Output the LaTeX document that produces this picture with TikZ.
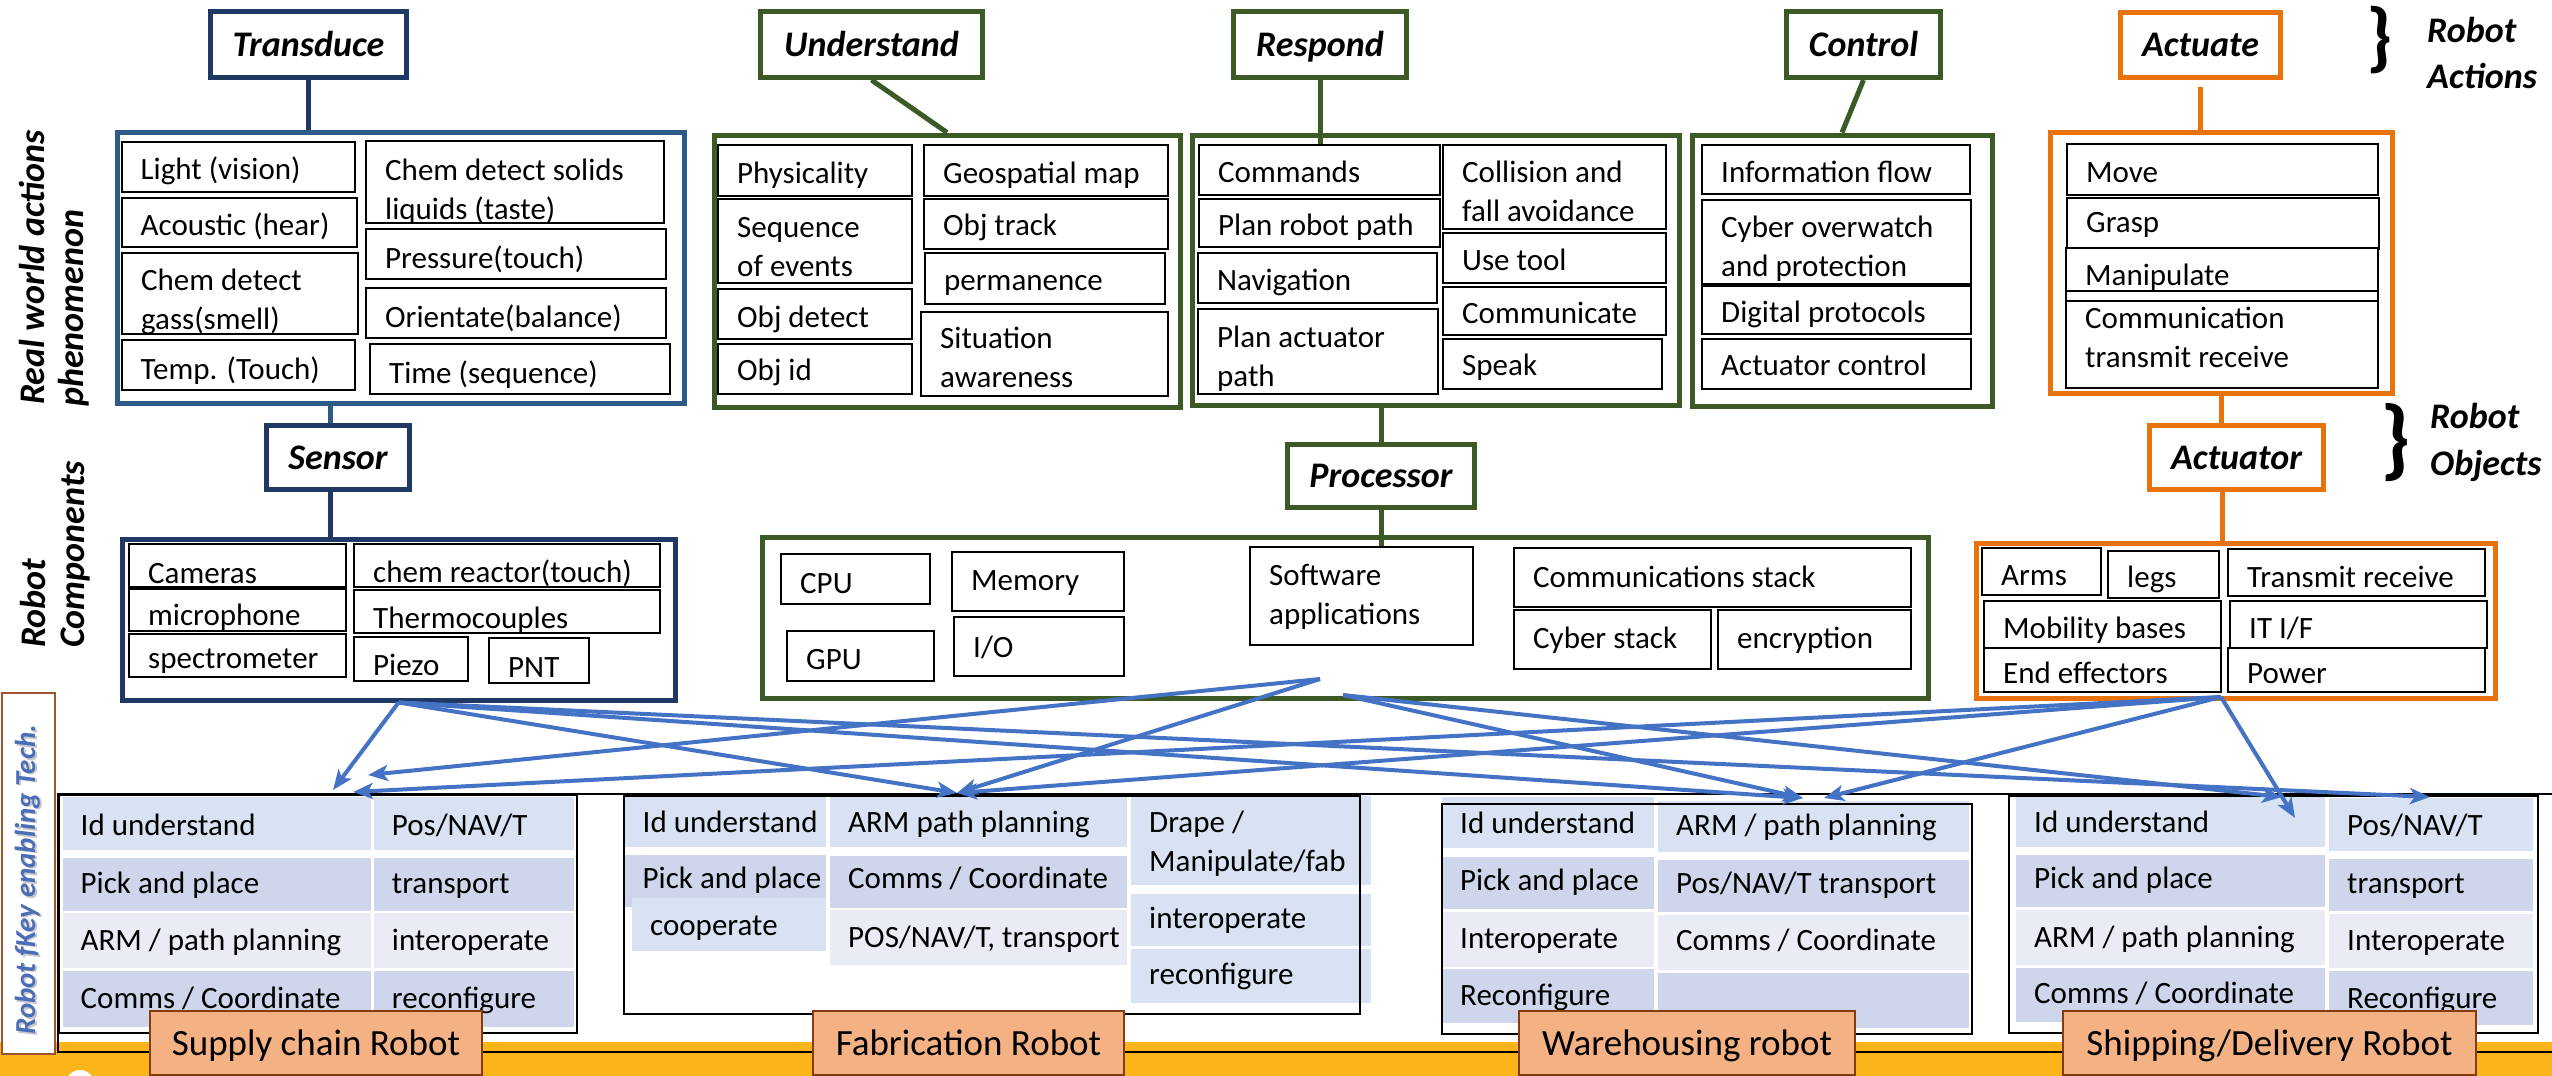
\documentclass[tikz,border=0pt]{standalone}
\usepackage{fontspec}
\setmainfont{Carlito}
\usetikzlibrary{arrows.meta,calc}

\definecolor{navy}{HTML}{203864}
\definecolor{navymid}{HTML}{2E5A88}
\definecolor{leaf}{HTML}{3B5A25}
\definecolor{amber}{HTML}{E8730C}
\definecolor{linkblue}{HTML}{4472C4}
\definecolor{rowA}{HTML}{D9E2F3}
\definecolor{rowB}{HTML}{CFD5EA}
\definecolor{rowC}{HTML}{E9EBF5}
\definecolor{tagfill}{HTML}{F4B183}
\definecolor{tagedge}{HTML}{843C0C}
\definecolor{band}{HTML}{FBB41A}
\definecolor{sidetext}{HTML}{4A6FB8}
\definecolor{sideshade}{HTML}{C8C8C8}
\definecolor{fkeyedge}{HTML}{A0522D}

\newcommand\bodyfont{\fontsize{31}{39}\selectfont}
\newcommand\headfont{\fontsize{36}{40}\selectfont\bfseries\itshape}
\newcommand\sidefont{\fontsize{36}{40}\selectfont\bfseries\itshape}
\newcommand\tagfont{\fontsize{37}{40}\selectfont}
\newcommand\twolines[2]{\vtop{\hbox{#1}\hbox{#2}}}

\tikzset{
  hdrbox/.style={draw, line width=5pt, fill=white, inner sep=0pt, font=\headfont, text height=23pt, text depth=0pt},
  groupframe/.style={draw, line width=5pt, fill=white, inner sep=0pt},
  cellframe/.style={draw=black, line width=2pt, fill=white, inner sep=0pt},
  celltext/.style={anchor=base west, inner sep=0pt, font=\bodyfont},
  tablecell/.style={inner sep=0pt, draw=none},
  tableframe/.style={draw=black, line width=2pt, inner sep=0pt},
  conn/.style={line width=5pt},
  flow/.style={draw=linkblue, line width=4pt, -{Stealth[length=20pt,width=16pt,inset=5pt]}},
  tag/.style={draw=tagedge, line width=2pt, fill=tagfill, inner sep=0pt, font=\tagfont, text height=24pt, text depth=0pt},
  sidelabel/.style={rotate=90, anchor=base west, inner sep=0pt, font=\sidefont},
  rlabel/.style={anchor=base west, inner sep=0pt, font=\sidefont},
  bracemark/.style={inner sep=0pt},
  fkeystyle/.style={rotate=90, anchor=base west, inner sep=0pt, font={\fontsize{29}{32}\selectfont\bfseries\itshape}},
}

% header box: name, x1, y1, x2, y2, colour, text
\newcommand\headbox[7]{%
  \node[hdrbox, draw=#6, minimum width={#4-#2}, minimum height={#5-#3}] (#1) at ({(#2+#4)/2},{(#3+#5)/2}) {#7};}
% group frame: name, x1, y1, x2, y2, colour
\newcommand\groupbox[6]{%
  \node[groupframe, draw=#6, anchor=north west, minimum width={#4-#2}, minimum height={#5-#3}] (#1) at (#2,#3) {};}
% framed cell: [baseline offset] name, x1, y1, x2, y2, text
\newcommand\boxcell[7][38]{%
  \node[cellframe, anchor=north west, minimum width={#5-#3}, minimum height={#6-#4}] (#2) at (#3,#4) {};
  \node[celltext] (#2-t) at ({#3+20},{#4+#1}) {#7};}
% table cell: name, x1, y1, x2, y2, fill, baseline, text
\newcommand\tabcell[8]{%
  \node[tablecell, fill=#6, anchor=north west, minimum width={#4-#2}, minimum height={#5-#3}] (#1) at (#2,#3) {};
  \node[celltext] (#1-t) at ({#2+18},#7) {#8};}
% table frame: name, x1, y1, x2, y2
\newcommand\tabframe[5]{%
  \node[tableframe, anchor=north west, minimum width={#4-#2}, minimum height={#5-#3}] (#1) at (#2,#3) {};}

\begin{document}
\begin{tikzpicture}[x=1pt,y=-1pt]
\useasboundingbox (0,0) rectangle (2552,1076);
\clip (0,0) rectangle (2552,1076);

% ---------- bottom band ----------
\fill[band] (0,1042) rectangle (2552,1076);
\fill[white] (80,1086) ellipse[x radius=15, y radius=16];

% ---------- group frames ----------
\groupbox{tcont}{115}{129.5}{681.5}{400.5}{navymid}
\groupbox{ucont}{711.5}{132.5}{1177.5}{404.5}{leaf}
\groupbox{rcont}{1189.5}{132.5}{1676.5}{402.5}{leaf}
\groupbox{ccont}{1689.5}{132.5}{1989.5}{403.5}{leaf}
\groupbox{acont}{2047.5}{129.5}{2389.5}{390.5}{amber}
\groupbox{scont}{119.5}{536.5}{672.5}{697.5}{navy}
\groupbox{pcont}{759.5}{534.5}{1925.5}{695.5}{leaf}
\groupbox{xcont}{1973.5}{540.5}{2492.5}{695.5}{amber}

% ---------- transduce ----------
\boxcell{light}{120.5}{141}{354}{191}{Light (vision)}
\boxcell{acoustic}{120.5}{197}{356}{246}{Acoustic (hear)}
\boxcell{gas}{121}{252}{357}{333}{\twolines{Chem detect}{gass(smell)}}
\boxcell[40]{temp}{120.5}{339}{354}{389}{Temp. (Touch)}
\boxcell[40]{taste}{365}{140}{663}{222}{\twolines{Chem detect solids}{liquids (taste)}}
\boxcell[40]{pressure}{365}{228}{665}{278}{Pressure(touch)}
\boxcell[40]{orient}{365}{287}{665}{337}{Orientate(balance)}
\boxcell[40]{timeseq}{369}{343}{669}{393}{Time (sequence)}

% ---------- understand ----------
\boxcell[39]{physical}{717}{144}{911}{195}{Physicality}
\boxcell[39]{sequence}{717}{198}{911}{282}{\twolines{Sequence}{of events}}
\boxcell[39]{objdetect}{717}{288}{911}{338}{Obj detect}
\boxcell[37]{objid}{717}{343}{911}{393}{Obj id}
\boxcell[39]{geomap}{923}{144}{1167}{195}{Geospatial map}
\boxcell[37]{objtrack}{923}{198}{1167}{248}{Obj track}
\boxcell{perm}{924}{252}{1164}{303}{permanence}
\boxcell[37]{situation}{920}{311}{1167}{395}{\twolines{Situation}{awareness}}

% ---------- respond ----------
\boxcell{commands}{1198}{144}{1439}{194}{Commands}
\boxcell[37]{robotpath}{1198}{198}{1439}{246}{Plan robot path}
\boxcell{navigation}{1197}{252}{1436}{302}{Navigation}
\boxcell[39]{actpath}{1197}{308}{1437}{393}{\twolines{Plan actuator}{path}}
\boxcell{collision}{1442}{144}{1665}{228}{\twolines{Collision and}{fall avoidance}}
\boxcell{usetool}{1442}{232}{1665}{282}{Use tool}
\boxcell[37]{communicate}{1442}{286}{1665}{334}{Communicate}
\boxcell[37]{speak}{1442}{338}{1661}{388}{Speak}

% ---------- control ----------
\boxcell{infoflow}{1701}{144}{1969}{193}{Information flow}
\boxcell{cyberwatch}{1701}{199}{1970}{283}{\twolines{Cyber overwatch}{and protection}}
\boxcell[37]{protocols}{1701}{285}{1970}{333}{Digital protocols}
\boxcell[37]{actcontrol}{1701}{338}{1970}{388}{Actuator control}

% ---------- actuate ----------
\boxcell[39]{move}{2066}{143}{2377}{194}{Move}
\boxcell[35]{grasp}{2066}{197}{2378}{248}{Grasp}
\boxcell{manip}{2065}{247}{2377}{290}{Manipulate}
\node[cellframe, anchor=north west, minimum width=312, minimum height=10] (manipstrip) at (2065,290) {};
\boxcell[28]{commtx}{2065}{300}{2377}{387}{\twolines{Communication}{transmit receive}}

% ---------- sensor ----------
\boxcell[40]{cameras}{128}{543}{345}{586}{Cameras}
\boxcell[37]{microphone}{128}{588}{345}{630}{microphone}
\boxcell[35]{spectro}{128}{633}{345}{676}{spectrometer}
\boxcell[39]{reactor}{353}{543}{659}{586}{chem reactor(touch)}
\boxcell[39]{thermo}{353}{589}{659}{632}{Thermocouples}
\boxcell[39]{piezo}{353}{636}{467}{680}{Piezo}
\boxcell[40]{pnt}{488}{637}{588}{682}{PNT}

% ---------- processor ----------
\boxcell[40]{cpu}{780}{553}{929}{603}{CPU}
\boxcell[39]{gpu}{786}{630}{933}{680}{GPU}
\boxcell[39]{memory}{951}{551}{1123}{610}{Memory}
\boxcell[41]{io}{953}{616}{1123}{675}{I/O}
\boxcell[39]{software}{1249}{546}{1472}{644}{\twolines{Software}{applications}}
\boxcell[40]{commstack}{1513}{547}{1910}{606}{Communications stack}
\boxcell[39]{cyberstack}{1513}{609}{1710}{668}{Cyber stack}
\boxcell[39]{encrypt}{1717}{609}{1910}{668}{encryption}

% ---------- actuator ----------
\boxcell{arms}{1981}{547}{2100}{594}{Arms}
\boxcell[37]{legs}{2107}{550}{2218}{597}{legs}
\boxcell[39]{transmit}{2227}{548}{2484}{595}{Transmit receive}
\boxcell{mobility}{1983}{600}{2220}{647}{Mobility bases}
\boxcell{itif}{2229}{600}{2486}{647}{IT I/F}
\boxcell[36]{endeff}{1983}{647}{2220}{691}{End effectors}
\boxcell[36]{power}{2227}{647}{2484}{691}{Power}

% ---------- header boxes ----------
\headbox{transduce}{210.5}{11.5}{406.5}{77.5}{navy}{Transduce}
\headbox{understand}{760.5}{11.5}{982.5}{77.5}{leaf}{Understand}
\headbox{respond}{1233.5}{11.5}{1406.5}{77.5}{leaf}{Respond}
\headbox{control}{1786.5}{11.5}{1940.5}{77.5}{leaf}{Control}
\headbox{actuate}{2120.5}{12.5}{2280.5}{77.5}{amber}{Actuate}
\headbox{sensor}{266.5}{425.5}{409.5}{489.5}{navy}{Sensor}
\headbox{processor}{1287.5}{444.5}{1474.5}{507.5}{leaf}{Processor}
\headbox{actuator}{2149.5}{425.5}{2323.5}{489.5}{amber}{Actuator}

% ---------- header connectors ----------
\draw[conn, navy] (transduce.south) -- (transduce.south |- tcont.north);
\draw[conn, navymid] ([xshift=-8pt]sensor.north) -- ([xshift=-8pt]sensor.north |- tcont.south);
\draw[conn, navy] ([xshift=-8pt]sensor.south) -- ([xshift=-8pt]sensor.south |- scont.north);
\draw[conn, leaf] (understand.south) -- (ucont.north);
\draw[conn, leaf] (respond.south) -- (respond.south |- commands.north);
\draw[conn, leaf] (control.south) -- (ccont.north);
\draw[conn, amber] ([yshift=-7pt]actuate.south) -- (actuate.south |- acont.north);
\draw[conn, amber] (acont.south) -- (acont.south |- actuator.north);
\draw[conn, amber] ([xshift=-14.5pt]actuator.south) -- ([xshift=-14.5pt]actuator.south |- xcont.north);
\draw[conn, leaf] (processor.north) -- (processor.north |- rcont.south);
\draw[conn, leaf] (processor.south) -- (processor.south |- software.north);

% ---------- side labels ----------
\node[sidelabel] (realworld) at (44,405) {Real world actions};
\node[sidelabel] (phenom) at (83,407) {phenomenon};
\node[sidelabel] (robotcomp) at (45,648) {Robot};
\node[sidelabel] (components) at (84,648) {Components};

\node[bracemark, font={\fontsize{77}{77}\selectfont\bfseries}] (brace1) at (2380,40) {\}};
\node[rlabel] (actlabel1) at (2427,42) {Robot};
\node[rlabel] (actlabel2) at (2427,88) {Actions};
\node[bracemark, font={\fontsize{89}{89}\selectfont\bfseries}] (brace2) at (2396,443) {\}};
\node[rlabel] (objlabel1) at (2430,428) {Robot};
\node[rlabel] (objlabel2) at (2430,475) {Objects};

% ---------- robot tables ----------
\draw[line width=2pt] (2560,794) -- (58,794) -- (58,1052) -- (2560,1052);

% supply chain
\tabcell{s11}{62.5}{797}{370.5}{850}{rowA}{835}{Id understand}
\tabcell{s21}{62.5}{858}{370.5}{911}{rowB}{893}{Pick and place}
\tabcell{s31}{62.5}{913}{370.5}{968}{rowC}{950}{ARM / path planning}
\tabcell{s41}{62.5}{971}{370.5}{1027}{rowB}{1008}{Comms / Coordinate}
\tabcell{s12}{373.7}{797}{573.7}{850}{rowA}{835}{Pos/NAV/T}
\tabcell{s22}{373.7}{858}{573.7}{911}{rowB}{893}{transport}
\tabcell{s32}{373.7}{913}{573.7}{968}{rowC}{950}{interoperate}
\tabcell{s42}{373.7}{971}{573.7}{1027}{rowB}{1008}{reconfigure}
\tabframe{supplybox}{58}{794}{576}{1032}

% fabrication
\tabcell{f11}{624.5}{796}{826}{847}{rowA}{832}{Id understand}
\tabcell{f21}{624.5}{855}{826}{907}{rowB}{888}{Pick and place}
\tabcell{f31}{632}{898}{826}{951}{rowA}{935}{cooperate}
\tabcell{f12}{830}{796}{1127}{847}{rowA}{832}{ARM path planning}
\tabcell{f22}{830}{856}{1127}{908}{rowB}{888}{Comms / Coordinate}
\tabcell{f32}{830}{910}{1127}{965}{rowC}{947}{POS/NAV/T, transport}
\tabcell{f13}{1131}{796}{1371}{885}{rowA}{832}{\twolines{Drape /}{Manipulate/fab}}
\tabcell{f23}{1131}{894}{1371}{946}{rowA}{928}{interoperate}
\tabcell{f33}{1131}{949}{1371}{1003}{rowA}{984}{reconfigure}
\tabframe{fabbox}{623}{795}{1359}{1013}

% warehousing
\tabcell{w11}{1442}{797}{1654}{848}{rowA}{833}{Id understand}
\tabcell{w21}{1442}{857}{1654}{909}{rowB}{890}{Pick and place}
\tabcell{w31}{1442}{912}{1654}{967}{rowC}{948}{Interoperate}
\tabcell{w41}{1442}{969}{1654}{1023}{rowB}{1005}{Reconfigure}
\tabcell{w12}{1658}{801}{1969}{852}{rowA}{835}{ARM / path planning}
\tabcell{w22}{1658}{860}{1969}{912}{rowB}{893}{Pos/NAV/T transport}
\tabcell{w32}{1658}{915}{1969}{970}{rowC}{950}{Comms / Coordinate}
\tabcell{w42}{1658}{973}{1969}{1028}{rowB}{1008}{}
\tabframe{warebox}{1441}{803}{1971}{1033}

% shipping / delivery
\tabcell{h11}{2016}{797}{2325}{847}{rowA}{832}{Id understand}
\tabcell{h21}{2016}{855}{2325}{907}{rowB}{888}{Pick and place}
\tabcell{h31}{2016}{910}{2325}{965}{rowC}{947}{ARM / path planning}
\tabcell{h41}{2016}{968}{2325}{1022}{rowB}{1003}{Comms / Coordinate}
\tabcell{h12}{2329}{798}{2533}{851}{rowA}{835}{Pos/NAV/T}
\tabcell{h22}{2329}{859}{2533}{911}{rowB}{893}{transport}
\tabcell{h32}{2329}{914}{2533}{968}{rowC}{950}{Interoperate}
\tabcell{h42}{2329}{971}{2533}{1025}{rowB}{1008}{Reconfigure}
\tabframe{shipbox}{2008}{795}{2537}{1032}

% enabling-technology side tag
\node[draw=fkeyedge, line width=2pt, fill=white, inner sep=0pt, anchor=north west, minimum width=53, minimum height=361] (fkeybox) at (1,692) {};
\node[fkeystyle, text=sideshade] (fkeyshade) at (37,1036.5) {Robot fKey enabling Tech.};
\node[fkeystyle, text=sidetext] (fkey) at (35,1035) {Robot fKey enabling Tech.};

% ---------- component-to-robot flows ----------
\coordinate (srcP) at (1320,679);
\coordinate (srcQ) at (1343,695);
\coordinate (srcA) at (2221,697);
\coordinate (tS1) at (333,790);
\coordinate (tS2) at (368,775);
\coordinate (tS3) at (353,792);
\coordinate (tF) at (957,793);
\coordinate (tW1) at (1803,798);
\coordinate (tW2) at (1824,798);
\coordinate (tH1) at (2282,797);
\coordinate (tH2) at (2295,818);
\coordinate (tH3) at (2430,797);

\draw[flow] (scont.south) -- (tS1);
\draw[flow] (scont.south) -- (tF);
\draw[flow] (scont.south) -- (tW1);
\draw[flow] (scont.south) -- (tH3);
\draw[flow] (srcP) -- (tS2);
\draw[flow] (srcP) -- (tF);
\draw[flow] (srcQ) -- (tW1);
\draw[flow] (srcQ) -- (tH1);
\draw[flow] (srcA) -- (tS3);
\draw[flow] (srcA) -- (tF);
\draw[flow] (srcA) -- (tW2);
\draw[flow] (srcA) -- (tH2);

% ---------- robot name tags ----------
\node[tag, minimum width=332, minimum height=64] (supplytag) at (316,1043) {Supply chain Robot};
\node[tag, minimum width=311, minimum height=64] (fabtag) at (968.5,1043) {Fabrication Robot};
\node[tag, minimum width=336, minimum height=64] (waretag) at (1687,1043) {Warehousing robot};
\node[tag, minimum width=413, minimum height=64] (shiptag) at (2269.5,1043) {Shipping/Delivery Robot};
\end{tikzpicture}
\end{document}
